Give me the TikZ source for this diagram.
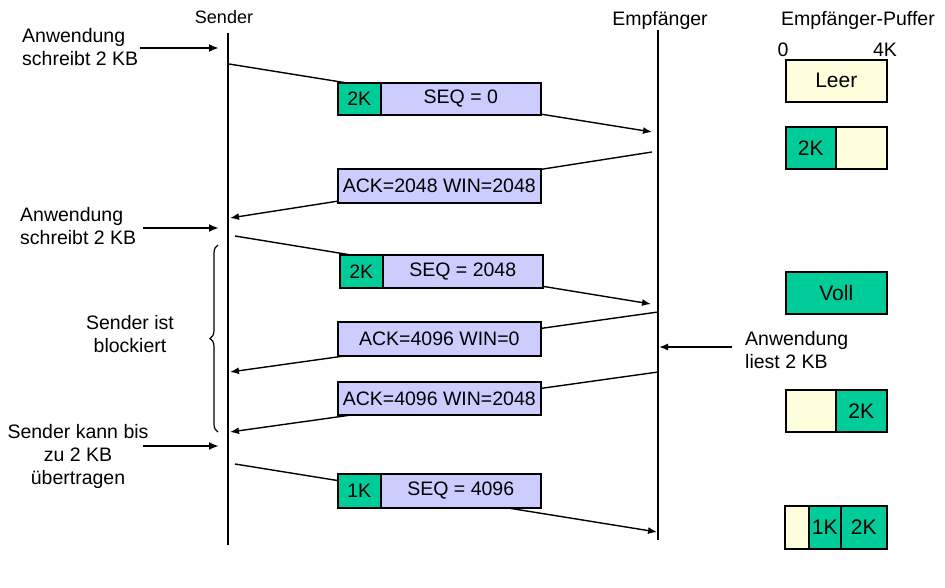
\documentclass[tikz,border=0pt]{standalone}
\usepackage{fontspec}
\setmainfont{Liberation Sans}
\usetikzlibrary{arrows.meta,decorations.pathreplacing}
\definecolor{pgreen}{HTML}{00CC99}
\definecolor{pblue}{HTML}{CCCCFF}
\definecolor{pcream}{HTML}{FFFFDD}
\begin{document}
\begin{tikzpicture}[x=1pt,y=-1pt,
  every node/.style={font=\fontsize{19.5}{23}\selectfont, inner sep=0pt},
  lifeline/.style={line width=1.2pt},
  msg/.style={line width=1.4pt, -{Latex[length=9pt,width=7pt]}},
  appl/.style={line width=2.5pt, -{Latex[length=10pt,width=8pt]}},
  box/.style={draw, line width=1.6pt, minimum height=32pt, anchor=north west},
  gbox/.style={box, fill=pgreen},
  bbox/.style={box, fill=pblue},
  cbox/.style={box, fill=pcream},
  buf/.style={font=\fontsize{21}{25}\selectfont},
  lbl/.style={align=left, anchor=west},
]
\useasboundingbox (0,0) rectangle (945,588);

% headers
\node[font=\fontsize{18}{21}\selectfont] (sender) at (224,17) {Sender};
\node (empf) at (660,20) {Empfänger};
\node (puffer) at (858,20) {Empfänger-Puffer};
\node (null) at (783,50) {0};
\node (vierk) at (885,50) {4K};

% lifelines
\coordinate (s0) at (228,33);
\coordinate (s1) at (228,545);
\coordinate (r0) at (658,30);
\coordinate (r1) at (658,540);
\draw[lifeline] (s0) -- (s1);
\draw[lifeline] (r0) -- (r1);

% message endpoints
\coordinate (m1a) at (229,64);  \coordinate (m1b) at (652,132);
\coordinate (a1a) at (652,152); \coordinate (a1b) at (230,218);
\coordinate (m2a) at (235,236); \coordinate (m2b) at (651,304);
\coordinate (a2a) at (658,312); \coordinate (a2b) at (230,372);
\coordinate (a3a) at (658,372); \coordinate (a3b) at (230,432);
\coordinate (m3a) at (235,464); \coordinate (m3b) at (657,532);

\draw[msg] (m1a) -- (m1b);
\draw[msg] (a1a) -- (a1b);
\draw[msg] (m2a) -- (m2b);
\draw[msg] (a2a) -- (a2b);
\draw[msg] (a3a) -- (a3b);
\draw[msg] (m3a) -- (m3b);

% packets
\node[gbox, minimum width=43pt] (p1g) at (337,82) {2K};
\node[bbox, minimum width=160pt] (p1b) at (380,82) {SEQ = 0};
\node[bbox, minimum width=203pt, minimum height=34pt] (ack1) at (337,168) {ACK=2048 WIN=2048};
\node[gbox, minimum width=43pt, minimum height=33pt] (p2g) at (339,254) {2K};
\node[bbox, minimum width=160pt, minimum height=33pt] (p2b) at (382,254) {SEQ = 2048};
\node[bbox, minimum width=203pt, minimum height=34pt] (ack2) at (337,321) {ACK=4096 WIN=0};
\node[bbox, minimum width=203pt, minimum height=33pt] (ack3) at (337,381) {ACK=4096 WIN=2048};
\node[gbox, minimum width=43pt, minimum height=34pt] (p3g) at (337,473) {1K};
\node[bbox, minimum width=160pt, minimum height=34pt] (p3b) at (380,473) {SEQ = 4096};

% application events at sender
\node[lbl] (w1) at (22,47) {Anwendung\\schreibt 2 KB};
\coordinate (w1s) at (140,48);
\coordinate (w1t) at (219,48);
\draw[appl] (w1s) -- (w1t);

\node[lbl] (w2) at (20,226) {Anwendung\\schreibt 2 KB};
\coordinate (w2s) at (143,228);
\coordinate (w2t) at (219,228);
\draw[appl] (w2s) -- (w2t);

\node[align=center] (blk) at (130,334) {Sender ist\\blockiert};
\coordinate (br0) at (218,432);
\coordinate (br1) at (218,245);
\draw[line width=1.2pt, decorate, decoration={brace, amplitude=8pt}] (br0) -- (br1);

\node[align=center] (kann) at (78,456) {Sender kann bis\\zu 2 KB\\übertragen};
\coordinate (ks) at (143,446);
\coordinate (kt) at (219,446);
\draw[appl] (ks) -- (kt);

% application at receiver
\node[lbl] (liest) at (745,350) {Anwendung\\liest 2 KB};
\coordinate (ls) at (732,347);
\coordinate (lt) at (659,347);
\draw[msg] (ls) -- (lt);

% receiver buffer
\node[cbox, buf, minimum width=101pt, minimum height=42pt] (b1) at (785,59) {Leer};
\node[gbox, buf, minimum width=50pt, minimum height=42pt] (b2g) at (785,126) {2K};
\node[cbox, minimum width=51pt, minimum height=42pt] (b2c) at (835,126) {};
\node[gbox, buf, minimum width=101pt, minimum height=42pt] (b3) at (785,271) {Voll};
\node[cbox, minimum width=50pt, minimum height=42pt] (b4c) at (785,389) {};
\node[gbox, buf, minimum width=51pt, minimum height=42pt] (b4g) at (835,389) {2K};
\node[cbox, minimum width=24pt, minimum height=43pt] (b5c) at (784,505) {};
\node[gbox, buf, minimum width=32pt, minimum height=43pt] (b5a) at (808,505) {1K};
\node[gbox, buf, minimum width=46pt, minimum height=43pt] (b5b) at (840,505) {2K};
\end{tikzpicture}
\end{document}
